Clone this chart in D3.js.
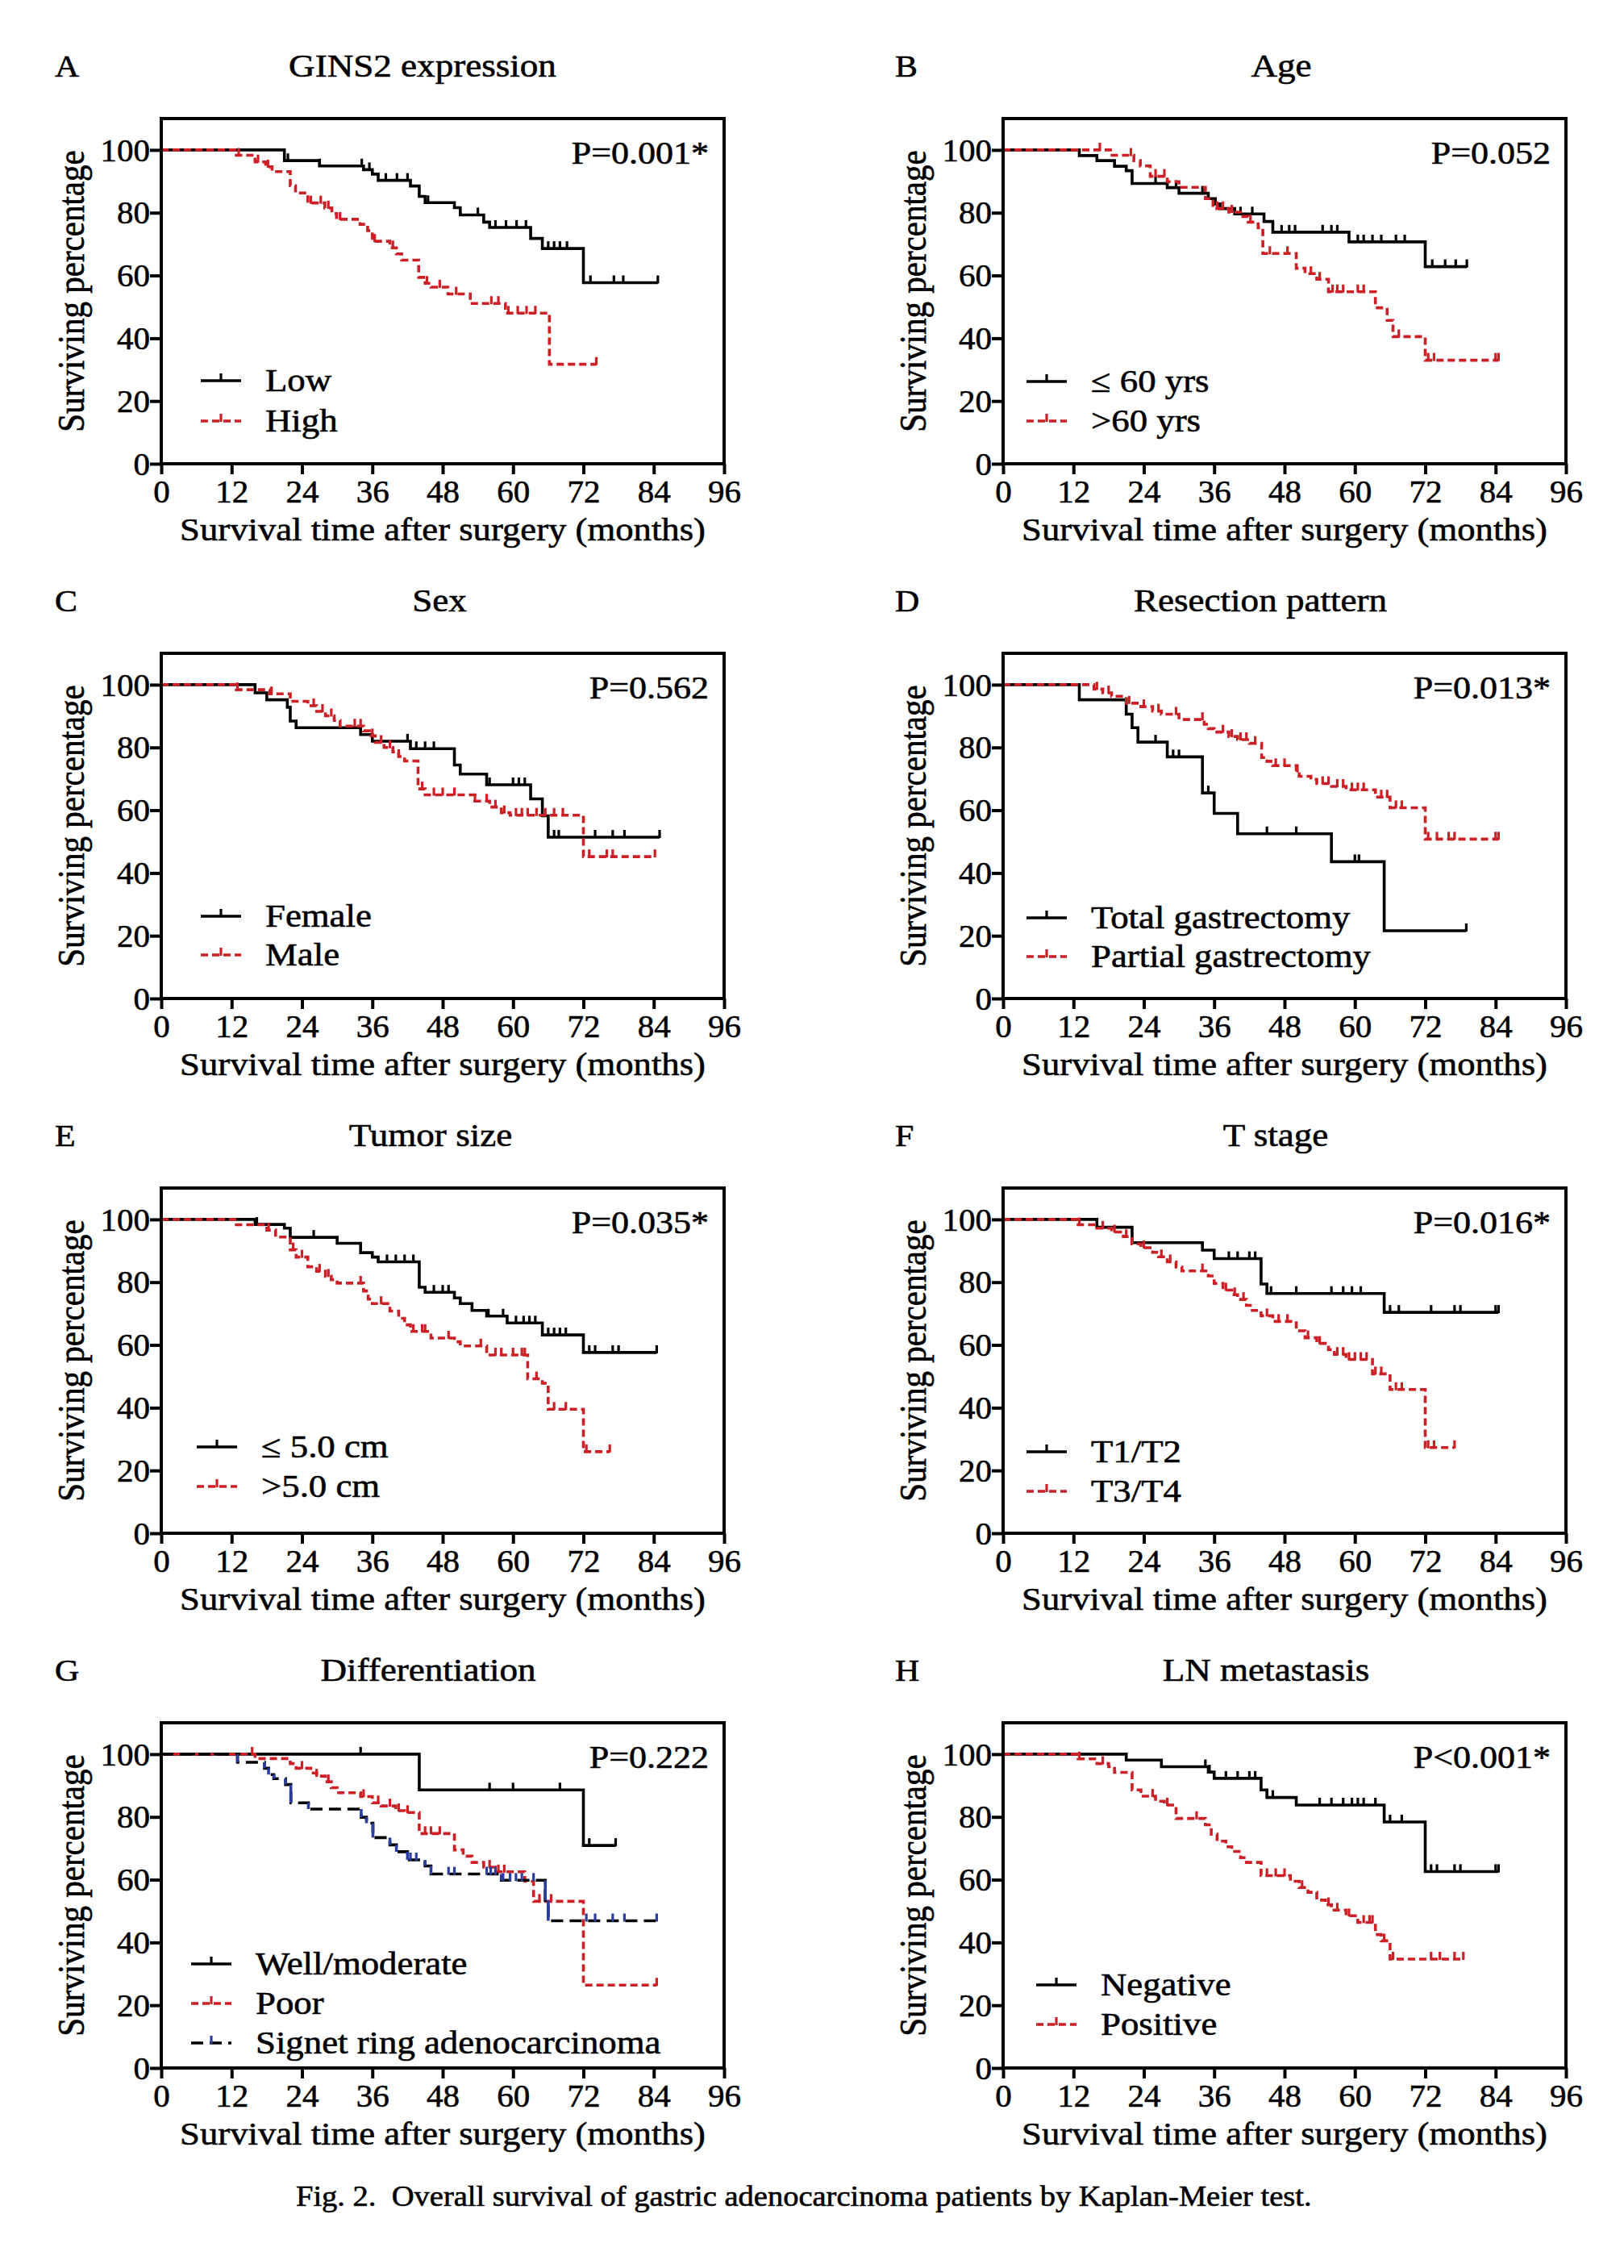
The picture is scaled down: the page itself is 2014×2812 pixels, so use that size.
<!DOCTYPE html>
<html><head><meta charset="utf-8">
<script src="https://cdn.jsdelivr.net/npm/d3@7"></script>
<style>
body{margin:0;background:#fff}
svg{display:block}
text{font-family:"Liberation Serif","Times New Roman",serif;fill:#000;stroke:#000;stroke-width:0.6px}
</style></head><body>
<svg id="c" width="2014" height="2812"></svg>
<script>
// ---------------- DATA ----------------
const xTicks = [0, 12, 24, 36, 48, 60, 72, 84, 96];
const yTicks = [0, 20, 40, 60, 80, 100];
const panelLetters = ["A","B","C","D","E","F","G","H"];
const panelTitles = ["GINS2 expression","Age","Sex","Resection pattern","Tumor size","T stage","Differentiation","LN metastasis"];
const pValues = ["P=0.001*","P=0.052","P=0.562","P=0.013*","P=0.035*","P=0.016*","P=0.222","P<0.001*"];
const legendLabels = [
  ["Low","High"],
  ["\u2264 60 yrs",">60 yrs"],
  ["Female","Male"],
  ["Total gastrectomy","Partial gastrectomy"],
  ["\u2264 5.0 cm",">5.0 cm"],
  ["T1/T2","T3/T4"],
  ["Well/moderate","Poor","Signet ring adenocarcinoma"],
  ["Negative","Positive"]
];
const xLabel = "Survival time after surgery (months)";
const yLabel = "Surviving percentage";
const caption = "Fig. 2.\u00a0 Overall survival of gastric adenocarcinoma patients by Kaplan-Meier test.";

// Steps: [month, survival % after drop]; Cens: censor times
const ginsLowSteps = [[21,96.6],[27,94.9],[34.5,93.7],[36,92.3],[37,90.3],[42.5,88.5],[44,85.2],[45,83.2],[50,81.6],[51,79.3],[55,77.0],[56,75.3],[63,71.8],[65,68.6],[72,57.7]];
const ginsLowCens = [21.6,27,34.2,35.5,38.3,40.2,42,45.5,54,57,58.8,60.6,62.2,66,67,68,69.2,73.2,77.2,78.8,84.7];
const ginsHighSteps = [[12.8,98.3],[16,96.2],[17.8,94.6],[18.9,93.1],[22,88.6],[22.9,86.3],[25,83.1],[27.9,81.5],[29.1,79.7],[29.9,77.9],[33.9,76.3],[35.2,74.3],[36,70.9],[39,68.8],[40.1,66.9],[41,64.9],[43.9,59.4],[45,57.5],[46,56.3],[48.9,54.1],[52.7,51.1],[58.7,48.0],[66.2,31.7]];
const ginsHighCens = [13.2,16.5,18.2,25.5,27.2,28.5,30.5,36.4,39.5,45.3,47.5,50.3,56.3,57.5,59.2,60.8,62.3,63.8,74.2];

const ageYoungSteps = [[13,98.2],[16,96.6],[19,94.8],[21,93.4],[22,89.3],[28,88.0],[30,86.2],[35,84.5],[36.2,82.8],[37,81.3],[39.5,79.6],[44.5,77.2],[46,73.8],[59,70.7],[72,62.8]];
const ageYoungCens = [26,29.5,34,40.5,42.5,47.5,48.8,49.8,54.5,56,57,60.5,61.5,63,64.5,67,68.5,73.2,75.4,77.2,79.1];
const ageOldSteps = [[18.3,98.3],[22.3,96.6],[23.4,94.9],[25.1,91.6],[28,89.9],[30,88.1],[34.5,84.5],[35.8,81.3],[38.5,80.2],[40.5,78.8],[41.8,77.0],[43.5,75.2],[44.3,67.0],[50,62.3],[51.5,60.6],[53.5,58.8],[55.5,54.8],[63.5,49.7],[65.5,45.7],[66.5,40.5],[72,33.0]];
const ageOldCens = [16.5,21.8,26,27.5,36.5,37.5,39,42.2,45.5,48.5,52.5,54,56.2,57,58,60.5,61.5,67.5,72.5,73.5,84,84.5];

const sexFemaleSteps = [[16,97.4],[18,95.2],[21.5,92.8],[22,88.4],[23,86.3],[34,84.1],[36,82.0],[42.5,79.6],[50,74.4],[51,71.5],[55.5,68.1],[63,63.6],[65,58.2],[66,51.4]];
const sexFemaleCens = [42,43.5,45,46.5,56,60,61,62,67,67.8,74,77,79,85];
const sexMaleSteps = [[12.8,98.4],[18.5,97.1],[22,94.7],[25,93.3],[26.5,91.5],[28,90.1],[29.5,88.6],[30.5,86.8],[34.5,85.3],[35.5,83.7],[36.5,81.6],[38,80.0],[39.5,78.6],[40.5,77.1],[41.5,75.7],[43.8,66.8],[45,64.9],[53.5,62.9],[56,61.0],[58,59.2],[59.5,58.4],[72,45.2]];
const sexMaleCens = [13,18.8,26,27.5,29,33,34,36,37.5,39,40.5,44.5,46.5,48,50,53.5,55.5,57,58.5,60.5,61.5,62.5,64,65.5,67,68.5,73,76,77,84.2];

const resTotalSteps = [[13,95.2],[21,90.6],[22,86.3],[23,81.7],[28,77.0],[34,65.5],[36,59.0],[40,52.5],[56,43.6],[65,21.6]];
const resTotalCens = [26,29,30,35,45,50,60,60.7,79];
const resPartialSteps = [[15.5,98.6],[17,97.4],[18.5,96.3],[21,94.1],[23.5,93.0],[25.5,91.6],[27,90.6],[30,88.9],[34.3,87.4],[35,86.0],[36,84.9],[38.5,83.5],[40,82.5],[42,81.3],[44.1,76.8],[45,75.6],[46,74.2],[50,72.3],[50.5,70.8],[52.5,69.8],[53.5,68.5],[56,67.6],[58.5,66.5],[63.5,64.2],[66,60.8],[72,50.8]];
const resPartialCens = [16,18,21.5,24,26.5,29.5,34,37.5,39,40.5,41.5,43,46.5,48,50.2,54.5,55.5,57,58,59.5,60.5,61.5,64.5,65.5,67,68,72.5,74,76,77,84,84.5];

const tumSmallSteps = [[16,98.4],[21,97.2],[22,94.3],[30,92.4],[34,89.4],[36,88.0],[37,86.5],[44,78.4],[45,76.8],[50,75.0],[51,73.2],[53,71.0],[55.5,69.2],[59,67.0],[65,63.2],[72,57.6]];
const tumSmallCens = [16.3,26,38.5,40,41.5,43,46.5,48,49,55.8,58.3,60.5,61.8,62.8,63.8,66,67,68,69,73,74,77,78,84.5];
const tumLargeSteps = [[12.8,98.3],[18,96.6],[19.5,94.4],[22,90.3],[23,88.0],[25,84.9],[26.5,83.5],[28,81.9],[29,80.8],[30,79.7],[34.5,77.2],[35.3,74.6],[36,73.2],[39,70.8],[40.5,68.5],[41.5,66.4],[42.5,64.3],[46,62.2],[50,61.0],[51,59.7],[55.5,56.8],[62.5,49.2],[65,47.8],[66,39.5],[72,26.0]];
const tumLargeCens = [18.3,22.5,24,27,28.5,34,37.5,43,44.5,45,49,54.5,57,58,60,61.5,62,64,67,69,72.5,76.5];

const tEarlySteps = [[16,97.5],[22,92.6],[34,90.2],[36,87.5],[44,79.4],[45,76.4],[65,70.4]];
const tEarlyCens = [38.5,40,42,43,45.7,50,56,58,59.5,61,66,67.5,73,77,78,84,84.5];
const tLateSteps = [[12.8,98.3],[16,97.2],[18.5,96.0],[20.5,94.5],[22,92.2],[23.5,91.0],[25.5,89.5],[26.5,88.1],[28,86.5],[29.5,84.8],[30.5,83.6],[35,82.0],[36,79.6],[37.5,77.5],[39,76.0],[40,74.5],[41.5,72.6],[42.5,71.0],[44,69.3],[46,67.5],[50,64.5],[51.5,62.3],[53.5,60.5],[55.5,58.5],[56.5,57.0],[58.5,55.4],[63,50.8],[66,45.8],[72,27.3]];
const tLateCens = [13,17,19,21,24,27,28.5,34,38,39.5,41,45,47,48.5,52,54,57,58,59,60,61,62,63.5,64.5,67,68,72.5,73.5,77];

const diffWellSteps = [[44,88.6],[72,70.9]];
const diffWellCens = [34,56,60,68,73,77.5];
const diffPoorSteps = [[16,98.6],[22,97.0],[23,95.5],[25.5,94.0],[26.5,93.0],[28,91.2],[29,89.3],[30,87.7],[34,86.5],[36,84.5],[37.5,83.5],[40,82.0],[41.5,81.4],[44,74.7],[50,69.5],[51.5,67.5],[53,65.5],[55,64.0],[57,62.5],[62,59.5],[63.5,53.1],[72,26.4]];
const diffPoorCens = [15.5,24,26.5,28.5,34.5,37,39,40.5,42,45,46,47.5,56,57.5,58.5,64.5,65.5,66.5,84.5];
const diffSignetSteps = [[13,97.4],[17.6,95.5],[18.3,93.5],[19.2,92.2],[21.2,90.3],[22.1,84.5],[25.1,82.5],[34.1,79.9],[35,78.0],[36.1,73.4],[39,71.1],[40.1,68.9],[42,66.3],[45,64.4],[46,61.8],[58,59.8],[65.5,53.4],[66,46.9]];
const diffSignetCens = [42.5,43.5,49,50,55.5,56.2,57,58.3,59.5,60.5,61.5,63.5,72.5,74,77,79,84.5];

const lnNegSteps = [[21,98.1],[27,96.0],[35,94.3],[36,92.3],[44,88.6],[45,86.2],[50,83.8],[65,78.4],[72,62.6]];
const lnNegCens = [34.5,35.2,38,40,42,43,46,54,56,58,59.5,60.5,61.5,63.5,66,68,73,74,77,78,84,84.5];
const lnPosSteps = [[12.8,98.5],[16,97.0],[18,96.0],[19,94.2],[22,88.6],[23.5,86.6],[26,85.0],[27.5,83.8],[29.5,79.5],[34.5,77.5],[35.5,74.5],[36.5,72.3],[38,70.5],[39,69.0],[40.5,67.0],[41.5,65.5],[44,61.3],[49,59.5],[50.5,57.5],[52,56.0],[53.5,53.5],[55,52.0],[56,50.3],[58.5,48.5],[60.5,46.4],[63.5,42.5],[64.5,40.5],[66,34.7]];
const lnPosCens = [13,17,25.5,28,33,45,46.5,48,51,55.5,57,59,61.5,62.5,63,65,66.5,73,74.5,77,78.5];

// ---------------- STYLE / LAYOUT ----------------
const RED = "#cc1f26", BLACK = "#000", BLUE = "#2b3d9e";
const styles = {
  solid:  {color: BLACK, dash: null, vcolor: null},
  red:    {color: RED, dash: "9,5", vcolor: null},
  signet: {color: BLACK, dash: "15,8", vcolor: BLUE}
};
const seriesByPanel = [
  [[ginsLowSteps, ginsLowCens, "solid"], [ginsHighSteps, ginsHighCens, "red"]],
  [[ageYoungSteps, ageYoungCens, "solid"], [ageOldSteps, ageOldCens, "red"]],
  [[sexFemaleSteps, sexFemaleCens, "solid"], [sexMaleSteps, sexMaleCens, "red"]],
  [[resTotalSteps, resTotalCens, "solid"], [resPartialSteps, resPartialCens, "red"]],
  [[tumSmallSteps, tumSmallCens, "solid"], [tumLargeSteps, tumLargeCens, "red"]],
  [[tEarlySteps, tEarlyCens, "solid"], [tLateSteps, tLateCens, "red"]],
  [[diffWellSteps, diffWellCens, "solid"], [diffPoorSteps, diffPoorCens, "red"], [diffSignetSteps, diffSignetCens, "signet"]],
  [[lnNegSteps, lnNegCens, "solid"], [lnPosSteps, lnPosCens, "red"]]
];
const colX = [200, 1244];
const rowY = [147, 810, 1473, 2136];
const boxW = 698, boxH = 428;
const letterX = [68, 1110];
const titleDx = [-25, -4, -4, -30, -15, -11, -18, -23];
const legendDx = [49, 29, 49, 29, 44, 29, 37, 41];
const legendDy = [[-103,-53],[-102,-53],[-102,-54],[-100,-52],[-107,-58],[-101,-52],[-129,-80,-31],[-103,-54]];
const SX = 1.1;

// ---------------- DRAW ----------------
const svg = d3.select("#c");
svg.append("rect").attr("width",2014).attr("height",2812).attr("fill","#fff");

function survAt(steps, t){
  let s = 100;
  for (const [tt, ss] of steps) { if (tt <= t) s = ss; }
  return s;
}
function stext(sel, x, y, size, sx, anchor, str){
  return sel.append("text").attr("transform", `translate(${x},${y}) scale(${sx},1)`)
    .attr("font-size", size).attr("text-anchor", anchor).text(str);
}

seriesByPanel.forEach((series, i) => {
  const col = i % 2, row = Math.floor(i / 2);
  const L = colX[col], T = rowY[row];
  const g = svg.append("g").attr("transform", `translate(${L},${T})`);
  const x = d3.scaleLinear().domain([0, 96]).range([0, boxW]);
  const y = d3.scaleLinear().domain([0, 110]).range([boxH, 0]);

  // axes
  const ya = g.append("g").call(d3.axisLeft(y).tickValues(yTicks).tickSize(14).tickPadding(0).tickSizeOuter(0));
  const xa = g.append("g").attr("transform", `translate(0,${boxH})`)
    .call(d3.axisBottom(x).tickValues(xTicks).tickSize(13).tickPadding(6).tickSizeOuter(0));
  [ya, xa].forEach(a => {
    a.attr("font-size", 41).attr("font-family", "Liberation Serif, serif");
    a.select(".domain").remove();
    a.selectAll(".tick line").attr("stroke", "#000").attr("stroke-width", 4);
    a.selectAll(".tick text").attr("font-size", 41).attr("fill", "#000");
  });

  // curves
  const line = d3.line().x(d => x(d[0])).y(d => y(d[1])).curve(d3.curveStepAfter);
  series.forEach(([steps, cens, st]) => {
    const sty = styles[st];
    const end = Math.max(d3.max(cens), steps[steps.length - 1][0]);
    const pts = [[0, 100], ...steps, [end, steps[steps.length - 1][1]]];
    g.append("path").attr("d", line(pts)).attr("fill", "none")
      .attr("stroke", sty.color).attr("stroke-width", 3.6)
      .attr("stroke-dasharray", sty.dash);
    const tickColor = sty.vcolor || sty.color;
    if (sty.vcolor) {
      let prev = 100;
      steps.forEach(([t, s]) => {
        g.append("line").attr("x1", x(t)).attr("x2", x(t)).attr("y1", y(prev)).attr("y2", y(s))
          .attr("stroke", sty.vcolor).attr("stroke-width", 3.6);
        prev = s;
      });
    }
    cens.forEach(c => {
      const s = survAt(steps, c);
      g.append("line").attr("x1", x(c)).attr("x2", x(c)).attr("y1", y(s) + 1).attr("y2", y(s) - 9)
        .attr("stroke", tickColor).attr("stroke-width", 3.2);
    });
  });

  // frame
  g.append("rect").attr("width", boxW).attr("height", boxH).attr("fill", "none")
    .attr("stroke", "#000").attr("stroke-width", 4);

  // texts
  stext(svg, letterX[col], T - 52, 38, SX, "start", panelLetters[i]);
  stext(svg, L + boxW / 2 + titleDx[i], T - 52, 41, SX, "middle", panelTitles[i]);
  stext(g, boxW - 19, 56, 40, SX, "end", pValues[i]);
  stext(g, boxW / 2, boxH + 95, 41, 1.09, "middle", xLabel);
  g.append("text").attr("transform", `translate(-96,${boxH / 2}) rotate(-90) scale(1,1.15)`)
    .attr("font-size", 41).attr("text-anchor", "middle").text(yLabel);

  // legend
  series.forEach(([steps, cens, st], k) => {
    const sty = styles[st];
    const lx = legendDx[i], ly = boxH + legendDy[i][k];
    g.append("line").attr("x1", lx).attr("x2", lx + 50).attr("y1", ly).attr("y2", ly)
      .attr("stroke", sty.color).attr("stroke-width", 3.6).attr("stroke-dasharray", sty.dash);
    g.append("line").attr("x1", lx + 25).attr("x2", lx + 25).attr("y1", ly + 1).attr("y2", ly - 9)
      .attr("stroke", sty.vcolor || sty.color).attr("stroke-width", 3.2);
    stext(g, lx + 80, ly + 13, 40, 1.12, "start", legendLabels[i][k]);
  });
});

stext(svg, 367, 2735, 36, 1.07, "start", caption);
</script></body></html>
